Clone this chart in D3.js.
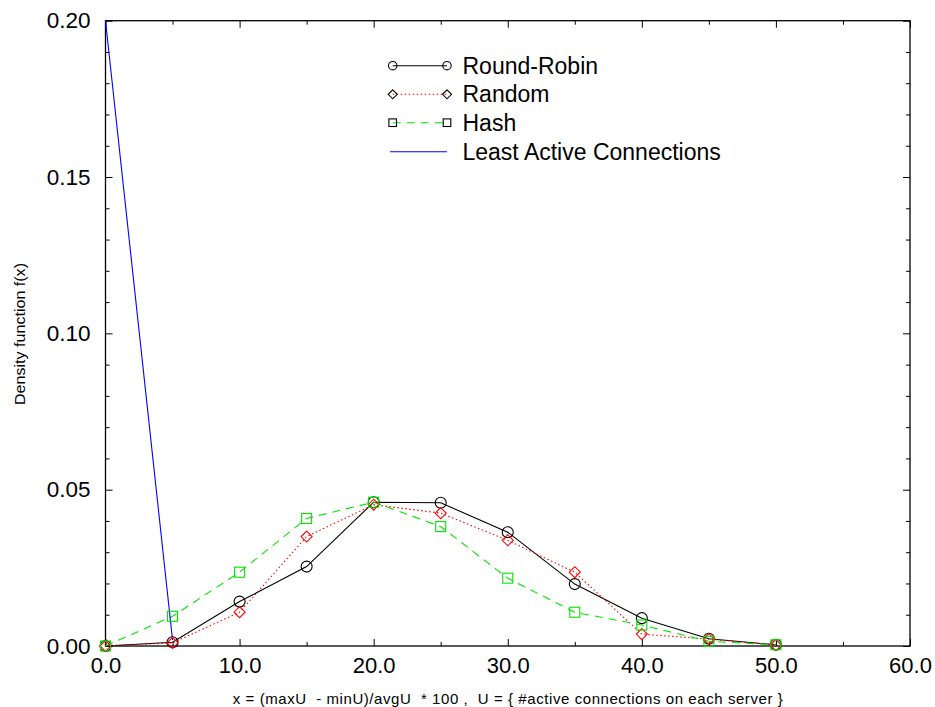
<!DOCTYPE html>
<html>
<head>
<meta charset="utf-8">
<script src="https://cdn.jsdelivr.net/npm/d3@7"></script>
<style>
  html, body { margin: 0; padding: 0; background: #fff; }
  svg { display: block; }
  text { font-family: "Liberation Sans", Arial, Helvetica, sans-serif; fill: #000; }
</style>
</head>
<body>
<svg id="chart" width="935" height="707"></svg>
<script>
// ---------- data ----------
const xValues = [0, 5, 10, 15, 20, 25, 30, 35, 40, 45, 50];
const roundRobin = [0.0, 0.0012, 0.0142, 0.0254, 0.0460, 0.0458, 0.0364, 0.0198, 0.0089, 0.0023, 0.0004];
const randomSel  = [0.0, 0.0010, 0.0108, 0.0350, 0.0452, 0.0425, 0.0338, 0.0236, 0.0038, 0.0022, 0.0003];
const hashSel    = [0.0, 0.0095, 0.0236, 0.0408, 0.0460, 0.0382, 0.0217, 0.0108, 0.0067, 0.0015, 0.0004];
const lacX = [0, 5];
const lacValues = [0.20, 0.0019];

const xMajorTicks = [0, 10, 20, 30, 40, 50, 60];
const xMinorTicks = [5, 15, 25, 35, 45, 55];
const yMajorTicks = [0, 0.05, 0.10, 0.15, 0.20];
const yMinorTicks = [0.01, 0.02, 0.03, 0.04, 0.06, 0.07, 0.08, 0.09, 0.11, 0.12, 0.13, 0.14, 0.16, 0.17, 0.18, 0.19];

const seriesNames = ["Round-Robin", "Random", "Hash", "Least Active Connections"];
const xLabel = "x = (maxU  - minU)/avgU  * 100 ,  U = { #active connections on each server }";
const yLabel = "Density function f(x)";

// ---------- layout ----------
const svg = d3.select("#chart");
const L = 105.5, R = 910, T = 20.7, B = 646;
const x = d3.scaleLinear().domain([0, 60]).range([L, R]);
const y = d3.scaleLinear().domain([0, 0.2]).range([B, T]);

// frame
svg.append("rect").attr("x", L).attr("y", T).attr("width", R - L).attr("height", B - T)
  .attr("fill", "none").attr("stroke", "#000").attr("stroke-width", 1.3);

function styleAxis(g, fs) {
  g.select(".domain").remove();
  g.selectAll(".tick line").attr("stroke", "#000").attr("stroke-width", 1);
  g.selectAll(".tick text").style("font-size", fs + "px").attr("fill", "#000");
}

// bottom axis
svg.append("g").attr("transform", `translate(0,${B})`)
  .call(d3.axisBottom(x).tickValues(xMajorTicks).tickSize(-7).tickPadding(11).tickFormat(d3.format(".1f")))
  .call(g => styleAxis(g, 22));
svg.append("g").attr("transform", `translate(0,${B})`)
  .call(d3.axisBottom(x).tickValues(xMinorTicks).tickSize(-4).tickFormat(""))
  .call(g => styleAxis(g, 22));
// top axis
svg.append("g").attr("transform", `translate(0,${T})`)
  .call(d3.axisTop(x).tickValues(xMajorTicks).tickSize(-7).tickFormat(""))
  .call(g => styleAxis(g, 22));
svg.append("g").attr("transform", `translate(0,${T})`)
  .call(d3.axisTop(x).tickValues(xMinorTicks).tickSize(-4).tickFormat(""))
  .call(g => styleAxis(g, 22));
// left axis
svg.append("g").attr("transform", `translate(${L},0)`)
  .call(d3.axisLeft(y).tickValues(yMajorTicks).tickSize(-7).tickPadding(15).tickFormat(d3.format(".2f")))
  .call(g => styleAxis(g, 22.5));
svg.append("g").attr("transform", `translate(${L},0)`)
  .call(d3.axisLeft(y).tickValues(yMinorTicks).tickSize(-4).tickFormat(""))
  .call(g => styleAxis(g, 22));
// right axis
svg.append("g").attr("transform", `translate(${R},0)`)
  .call(d3.axisRight(y).tickValues(yMajorTicks).tickSize(-7).tickFormat(""))
  .call(g => styleAxis(g, 22));
svg.append("g").attr("transform", `translate(${R},0)`)
  .call(d3.axisRight(y).tickValues(yMinorTicks).tickSize(-4).tickFormat(""))
  .call(g => styleAxis(g, 22));

// axis titles
svg.append("text").attr("x", (L + R) / 2).attr("y", 704)
  .attr("text-anchor", "middle").style("font-size", "15px").style("white-space", "pre")
  .attr("xml:space", "preserve")
  .attr("textLength", 550).attr("lengthAdjust", "spacing")
  .text(xLabel);
svg.append("text").attr("transform", `translate(25,334) rotate(-90)`)
  .attr("text-anchor", "middle").style("font-size", "15.5px")
  .attr("textLength", 142).attr("lengthAdjust", "spacingAndGlyphs")
  .text(yLabel);

// ---------- series ----------
function marker(g, type, cx, cy, s, color) {
  if (type === "circle") {
    g.append("circle").attr("cx", cx).attr("cy", cy).attr("r", s)
      .attr("fill", "none").attr("stroke", color).attr("stroke-width", 1.1);
  } else if (type === "diamond") {
    g.append("path").attr("d", `M${cx},${cy - s}L${cx + s},${cy}L${cx},${cy + s}L${cx - s},${cy}Z`)
      .attr("fill", "none").attr("stroke", color).attr("stroke-width", 1.1);
  } else if (type === "square") {
    g.append("rect").attr("x", cx - s).attr("y", cy - s).attr("width", 2 * s).attr("height", 2 * s)
      .attr("fill", "none").attr("stroke", color).attr("stroke-width", 1.1);
  }
}

const series = [
  { name: seriesNames[0], xs: xValues, ys: roundRobin, color: "#000000", dash: null, marker: "circle", ms: 5.5, lms: 4.2 },
  { name: seriesNames[1], xs: xValues, ys: randomSel, color: "#ff0000", dash: "1.5,2.5", marker: "diamond", ms: 5.5, lms: 4.5 },
  { name: seriesNames[2], xs: xValues, ys: hashSel, color: "#00e600", dash: "8,6", marker: "square", ms: 5, lms: 3.8 },
  { name: seriesNames[3], xs: lacX, ys: lacValues, color: "#0000ff", dash: null, marker: null, ms: 0, lms: 0 }
];

const line = d3.line().x(d => x(d[0])).y(d => y(d[1]));
const plot = svg.append("g");
series.forEach(s => {
  const pts = s.xs.map((v, i) => [v, s.ys[i]]);
  plot.append("path").attr("d", line(pts)).attr("fill", "none")
    .attr("stroke", s.color).attr("stroke-width", 1.1)
    .attr("stroke-dasharray", s.dash);
});
series.forEach(s => {
  if (!s.marker) return;
  s.xs.forEach((v, i) => marker(plot, s.marker, x(v), y(s.ys[i]), s.ms, s.color));
});

// ---------- legend ----------
const legendY = [65.7, 94.3, 122.7, 151.7];
const lg = svg.append("g");
series.forEach((s, i) => {
  const ly = legendY[i];
  const x0 = 392.7, x1 = 447;
  lg.append("line").attr("x1", s.marker ? x0 : 390).attr("x2", x1).attr("y1", ly).attr("y2", ly)
    .attr("stroke", s.color).attr("stroke-width", 1.1).attr("stroke-dasharray", s.dash);
  if (s.marker) {
    marker(lg, s.marker, x0, ly, s.lms, "#000");
    marker(lg, s.marker, x1, ly, s.lms, "#000");
  }
  lg.append("text").attr("x", 462.5).attr("y", ly).attr("dy", "0.35em")
    .style("font-size", "23px").text(s.name);
});
</script>
</body>
</html>
